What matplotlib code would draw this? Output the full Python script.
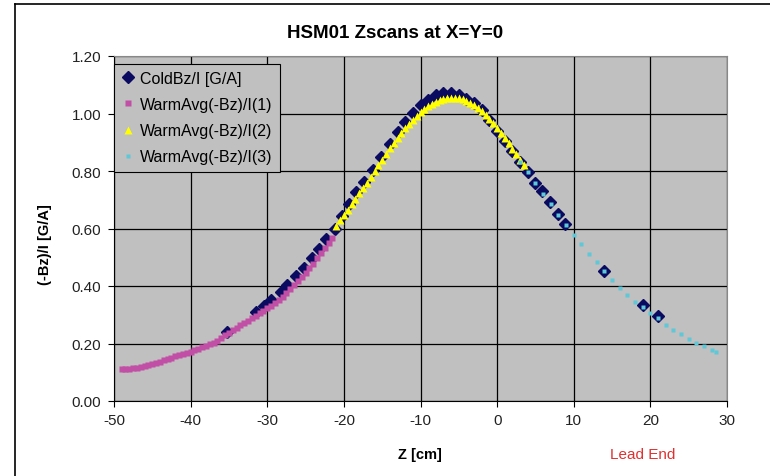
import numpy as np
import matplotlib.pyplot as plt
from matplotlib.lines import Line2D

plt.rcParams['font.family'] = ['Liberation Sans', 'DejaVu Sans']
plt.rcParams['axes.unicode_minus'] = False

# ColdBz/I [G/A]
cold_z = [-35.3, -31.5, -30.4, -29.5, -28.2, -27.4, -26.3, -25.2, -24.1, -23.2,
          -22.3, -21.2, -20.3, -19.3, -18.4, -17.4, -16.2, -15.1, -14.0, -13.0,
          -12.0, -11.0, -10.0, -9.0, -8.0, -7.0, -6.0, -5.0, -4.0, -3.0,
          -2.0, -1.0, 0.0, 1.0, 2.0, 3.0, 4.0, 5.0, 5.9, 6.9,
          8.0, 8.9, 14.0, 19.1, 21.0]
cold_b = [0.240, 0.309, 0.331, 0.352, 0.378, 0.403, 0.436, 0.462, 0.496, 0.529,
          0.563, 0.598, 0.643, 0.685, 0.726, 0.761, 0.805, 0.850, 0.895, 0.935,
          0.970, 1.002, 1.028, 1.048, 1.063, 1.071, 1.072, 1.065, 1.052, 1.035,
          1.012, 0.978, 0.940, 0.905, 0.870, 0.832, 0.795, 0.760, 0.731, 0.691,
          0.650, 0.616, 0.452, 0.334, 0.296]

# WarmAvg(-Bz)/I(1)
warm1_z = [-49.0, -48.5, -48.0, -47.5, -47.0, -46.5, -46.0, -45.5, -45.0, -44.5,
           -44.0, -43.5, -43.0, -42.5, -42.0, -41.5, -41.0, -40.5, -40.0, -39.5,
           -39.0, -38.5, -38.0, -37.5, -37.0, -36.5, -36.0, -35.5, -35.0, -34.5,
           -34.0, -33.5, -33.0, -32.5, -32.0, -31.5, -31.0, -30.5, -30.0, -29.5,
           -29.0, -28.5, -28.0, -27.5, -27.0, -26.5, -26.0, -25.5, -25.0, -24.5,
           -24.0, -23.5, -23.0, -22.5, -22.0, -21.5]
warm1_b = [0.111, 0.112, 0.113, 0.114, 0.116, 0.118, 0.121, 0.125, 0.129, 0.133,
           0.137, 0.142, 0.146, 0.151, 0.155, 0.159, 0.163, 0.167, 0.171, 0.176,
           0.181, 0.187, 0.192, 0.198, 0.203, 0.210, 0.218, 0.228, 0.238, 0.246,
           0.255, 0.264, 0.272, 0.280, 0.288, 0.297, 0.305, 0.314, 0.323, 0.332,
           0.341, 0.352, 0.363, 0.375, 0.388, 0.402, 0.416, 0.431, 0.446, 0.462,
           0.478, 0.496, 0.514, 0.532, 0.550, 0.568]

# WarmAvg(-Bz)/I(2)
warm2_z = [-21.0, -20.5, -20.0, -19.5, -19.0, -18.5, -18.0, -17.5, -17.0, -16.5,
           -16.0, -15.5, -15.0, -14.5, -14.0, -13.5, -13.0, -12.5, -12.0, -11.5,
           -11.0, -10.5, -10.0, -9.5, -9.0, -8.5, -8.0, -7.5, -7.0, -6.5,
           -6.0, -5.5, -5.0, -4.5, -4.0, -3.5, -3.0, -2.5, -2.0, -1.5,
           -1.0, -0.5, 0.0, 0.5, 1.0, 1.5, 2.0, 2.5, 3.0, 3.5]
warm2_b = [0.610, 0.628, 0.646, 0.665, 0.684, 0.703, 0.722, 0.741, 0.760, 0.780,
           0.800, 0.820, 0.840, 0.860, 0.879, 0.898, 0.916, 0.933, 0.950, 0.965,
           0.979, 0.992, 1.004, 1.015, 1.025, 1.033, 1.040, 1.046, 1.050, 1.053,
           1.055, 1.055, 1.053, 1.050, 1.045, 1.038, 1.030, 1.020, 1.009, 0.996,
           0.982, 0.966, 0.950, 0.933, 0.915, 0.897, 0.878, 0.859, 0.840, 0.821]

# WarmAvg(-Bz)/I(3)
warm3_z = [3.0, 4.0, 5.0, 6.0, 7.0, 8.0, 9.0, 10.0, 11.0, 12.0,
           13.0, 14.0, 15.0, 16.0, 17.0, 18.0, 19.0, 20.0, 21.0, 22.0,
           23.0, 24.0, 25.0, 26.0, 27.0, 28.0, 28.5]
warm3_b = [0.832, 0.795, 0.758, 0.721, 0.684, 0.648, 0.612, 0.578, 0.545, 0.513,
           0.482, 0.452, 0.422, 0.392, 0.367, 0.346, 0.326, 0.305, 0.287, 0.265,
           0.248, 0.232, 0.216, 0.203, 0.190, 0.178, 0.170]

x_ticks = [-50, -40, -30, -20, -10, 0, 10, 20, 30]
y_ticks = [0.0, 0.2, 0.4, 0.6, 0.8, 1.0, 1.2]

fig = plt.figure(figsize=(7.7, 4.77), dpi=100)
ax = fig.add_axes([114/770, 75/477, 613/770, 345/477])
ax.set_facecolor('#C0C0C0')

ax.plot(cold_z, cold_b, 'D', color='#0A0A60', ms=6.5, mec='#0A0A60',
        label='ColdBz/I [G/A]', zorder=3)
ax.plot(warm1_z, warm1_b, 's', color='#C24FA6', ms=4.5, mec='none',
        label='WarmAvg(-Bz)/I(1)', zorder=4)
ax.plot(warm2_z, warm2_b, '^', color='#FFFF00', ms=6, mec='none',
        label='WarmAvg(-Bz)/I(2)', zorder=4)
ax.plot(warm3_z, warm3_b, 's', color='#5CC8D8', ms=3.5, mec='none',
        label='WarmAvg(-Bz)/I(3)', zorder=5)

ax.set_xlim(-50, 30)
ax.set_ylim(0, 1.2)
ax.set_xticks(x_ticks)
ax.set_yticks(y_ticks)
ax.set_yticklabels([f'{v:.2f}' for v in y_ticks])
ax.grid(True, color='black', lw=0.9)
ax.set_axisbelow(True)
ax.tick_params(labelsize=11, length=4, pad=5, color='black', labelcolor='#222222')
for s in ax.spines.values():
    s.set_color('black')
    s.set_linewidth(0.8)
ax.spines['top'].set_color('#888888')
ax.spines['right'].set_color('#888888')

leg = ax.legend(loc='upper left', bbox_to_anchor=(0.0, 0.978), fontsize=11.5,
                frameon=True, fancybox=False, borderpad=0.45, labelspacing=0.7,
                handlelength=0.8, handletextpad=0.4, borderaxespad=0)
leg.get_frame().set_facecolor('#C0C0C0')
leg.get_frame().set_edgecolor('black')
leg.get_frame().set_linewidth(0.8)
leg.get_frame().set_alpha(1)

fig.text(395/770, 1 - 33/477, 'HSM01 Zscans at X=Y=0', ha='center', va='center',
         fontsize=13.5, fontweight='bold')
fig.text(45/770, 1 - 245/477, '(-Bz)/I [G/A]', ha='center', va='center',
         rotation=90, fontsize=10.5, fontweight='bold')
fig.text(420/770, 1 - 455/477, 'Z [cm]', ha='center', va='center',
         fontsize=10.5, fontweight='bold')
fig.text(643/770, 1 - 455/477, 'Lead End', ha='center', va='center',
         fontsize=11, color='#E03030')

# outer chart frame
fig.add_artist(Line2D([15/770, 1.0], [1 - 4.5/477, 1 - 4.5/477], color='black', lw=1.2))
fig.add_artist(Line2D([15/770, 15/770], [0.0, 1 - 4.5/477], color='black', lw=1.2))

fig.savefig('out.png', dpi=100)
